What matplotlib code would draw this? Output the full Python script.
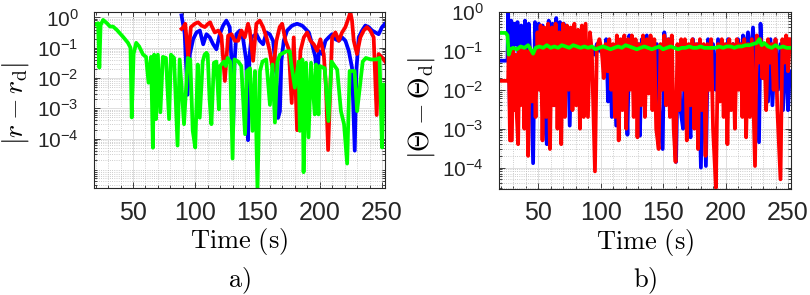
import matplotlib
matplotlib.use("Agg")
import matplotlib.pyplot as plt
from matplotlib.ticker import MultipleLocator, LogLocator, NullFormatter

# ---- data ----
# a) |r - r_d|
ta_green = [18.7, 22, 23, 24, 26, 29, 31.6, 34, 37, 42, 46, 48, 49, 50.5, 52.6, 55, 58, 60.5, 62.5, 64.5,
            66, 67, 68.5, 70, 72, 74, 76.5, 79, 80.5, 83, 85.8, 87.5, 91, 94, 96, 98, 100, 102, 103.6, 106,
            107.5, 109, 110, 111.6, 113, 115, 117, 119, 120, 123, 124.5, 126, 128, 130, 131.5, 134.5, 137,
            140, 141.5, 144, 146, 148, 150, 152, 154, 157, 160, 162, 164, 166, 168, 171, 173, 176, 177, 180,
            183, 184, 186, 187, 189, 191, 193, 196, 197, 199, 200, 204, 207, 209.5, 214, 217, 219.5, 222,
            224, 228, 230, 234.5, 237, 241, 245, 248, 250, 251.3, 252.5]
ra_green = [0.56, 0.65, 0.022, 0.56, 0.83, 0.65, 0.5, 0.5, 0.39, 0.23, 0.145, 0.1, 5e-4, 0.063, 0.145, 0.11,
            0.06, 0.05, 0.007, 0.05, 5e-5, 0.059, 4.4e-4, 0.059, 7.4e-4, 0.05, 0.046, 4.4e-4, 0.059, 0.046,
            5.9e-5, 0.041, 3e-4, 0.046, 0.041, 1.8e-4, 5.1e-5, 0.028, 4.9e-4, 0.035, 0.059, 0.068, 0.059,
            1.7e-3, 3e-4, 0.032, 0.035, 9.3e-4, 0.025, 0.035, 0.025, 0.046, 0.035, 2.2e-5, 0.041, 0.035,
            0.025, 1.4e-4, 0.017, 0.021, 1.8e-4, 0.017, 2e-6, 0.017, 0.035, 0.041, 1.3e-3, 0.028, 3.4e-4,
            0.035, 0.059, 0.068, 0.076, 0.076, 0.032, 4.8e-3, 0.035, 1.8e-4, 0.041, 7.8e-6, 0.032, 1.1e-4,
            0.032, 6.3e-4, 0.028, 6.3e-4, 0.025, 0.021, 3.8e-4, 0.035, 0.019, 8.1e-4, 3e-4, 1.5e-5, 0.017,
            0.017, 8.1e-4, 0.035, 0.046, 0.041, 0.041, 0.046, 5.1e-5, 6.2e-3, 1.3e-3]

ta_blue = [89, 91.5, 93.8, 95.7, 98.3, 101, 103.7, 106.4, 109, 111.7, 114.4, 117, 119.7, 122.4, 125, 127.7,
           129.5, 130.4, 131.5, 133, 135.8, 138.4, 141, 142.4, 143.5, 145.1, 149.1, 151.8, 154.5, 157.2,
           159.8, 162.5, 165.2, 166.5, 168, 169.2, 171.1, 173.8, 177.8, 181.8, 185.8, 188.5, 191.2, 193.9,
           196.5, 197.9, 199.2, 201.9, 204.6, 207.2, 209.9, 212.6, 215.3, 217.9, 220.6, 223.3, 225.9, 228.1,
           229.5, 231.3, 234, 236.6, 239.3, 242, 244.7, 247.3, 250, 252.5]
ra_blue = [1.17, 0.3, 0.0028, 0.062, 0.19, 0.32, 0.37, 0.13, 0.28, 0.22, 0.13, 0.089, 0.28, 0.54, 0.79, 0.48,
           0.02, 1.9e-4, 0.03, 0.28, 0.37, 0.2, 0.037, 8.9e-5, 0.05, 0.22, 0.28, 0.17, 0.13, 0.32, 0.28, 0.17,
           0.013, 4.8e-4, 8e-4, 0.037, 0.17, 0.37, 0.54, 0.62, 0.54, 0.42, 0.32, 0.13, 0.048, 0.0062, 0.079,
           0.062, 0.17, 0.22, 0.28, 0.19, 0.17, 0.22, 0.17, 0.079, 0.022, 4e-5, 0.02, 0.22, 0.37, 0.54, 0.48,
           0.37, 0.32, 0.28, 0.48, 0.62]

ta_red = [89, 90.5, 92, 94.3, 96.5, 99.7, 102.3, 105, 107.7, 110.3, 112, 113, 115.7, 118.4, 121, 123.8, 126.4,
          129.1, 131.8, 134.5, 137.1, 139.8, 142.4, 143.8, 146.5, 149.1, 151.8, 154.5, 157.2, 159.8, 162.5,
          165.2, 167.8, 169.8, 172.5, 175.1, 177.5, 179.1, 181.8, 184.5, 187.2, 189.9, 192.5, 195.2, 197.9,
          200.5, 203.2, 205, 206.7, 209.9, 212.6, 215.3, 217.9, 220.6, 223.3, 224.6, 225.9, 227.3, 229.9,
          232.6, 235.3, 237.9, 240.6, 243.3, 245.7, 247.3, 250, 252.5]
ra_red = [0.42, 0.48, 0.62, 0.048, 0.48, 0.62, 0.69, 0.54, 0.48, 0.62, 0.69, 0.54, 0.32, 0.37, 0.25, 0.008,
          0.25, 0.28, 0.17, 0.17, 0.37, 0.22, 0.62, 0.37, 0.037, 0.62, 0.79, 0.48, 0.22, 0.079, 0.017, 0.17,
          0.48, 0.62, 0.17, 0.089, 0.0015, 0.22, 1.9e-4, 0.079, 0.22, 0.32, 0.17, 0.13, 0.079, 0.19, 0.062,
          0.005, 4.2e-5, 0.22, 0.32, 0.17, 0.32, 0.48, 1.0, 1.5, 0.79, 0.17, 0.062, 0.22, 0.37, 0.48, 0.37,
          0.22, 6e-4, 0.062, 0.048, 0.035]

# b) |Theta - Theta_d|
tb_blue = [18.7, 25.5, 26, 27.4, 28.5, 29.5, 31, 32, 33.5, 35, 36.5, 38, 39.5, 41, 42.5, 44, 46, 47.5, 49,
           50.5, 52, 53.5, 55, 57, 58.5, 60, 61.5, 63, 64.5, 66, 67.5, 69, 70.5, 72, 73.5, 75.3, 77, 79, 81,
           83, 85, 87, 89, 91, 93, 95, 97, 99, 101, 103, 104.5, 106, 107.5, 109, 110.5, 112.5, 114, 116, 118,
           120, 121.5, 123, 124.5, 126, 128, 130, 131.5, 133, 135, 137, 139, 141, 143, 145, 147, 149.7, 151,
           153, 155, 157, 158.5, 160.4, 162, 164, 166, 168, 170, 172, 174, 176, 178, 180.3, 182, 184.3, 186,
           188, 190, 192, 194, 196, 198, 200, 202, 204, 206, 208, 210, 212, 214, 216, 218, 220, 222, 224,
           226.8, 228, 230, 232, 234, 236, 237.5, 240, 242, 244, 246, 248, 250, 251.5]
thb_blue = [0.056, 0.056, 0.95, 0.003, 0.6, 0.02, 0.5, 0.15, 0.55, 0.01, 0.45, 0.03, 0.6, 0.002, 0.5, 0.05,
            1.3e-4, 0.55, 0.01, 0.5, 0.1, 0.45, 0.002, 4e-4, 0.6, 0.08, 0.5, 0.004, 0.7, 0.05, 0.55, 0.02, 0.5,
            0.01, 0.4, 1.2e-3, 0.3, 0.05, 0.25, 0.01, 0.2, 0.03, 0.15, 0.1, 0.12, 0.08, 0.15, 0.1, 0.12, 0.03,
            0.2, 0.005, 0.15, 0.002, 0.12, 1.2e-3, 0.15, 0.004, 0.2, 0.03, 7e-4, 0.25, 0.05, 0.2, 0.01, 0.15,
            6.6e-4, 0.2, 0.04, 0.25, 0.02, 0.2, 0.005, 0.15, 0.003, 3e-4, 0.3, 0.05, 0.2, 0.005, 0.002, 1.4e-4,
            0.1, 0.003, 0.001, 0.15, 2e-3, 6e-4, 0.2, 0.01, 0.15, 1e-4, 0.1, 1.1e-4, 0.2, 0.05, 0.15, 0.01,
            0.2, 0.03, 0.15, 0.005, 0.2, 0.02, 0.15, 0.05, 0.2, 0.03, 0.25, 0.1, 0.3, 0.05, 0.4, 0.01, 4.5e-4,
            0.5, 0.02, 0.15, 0.005, 0.2, 0.004, 0.2, 0.01, 0.15, 0.003, 0.2, 0.003, 0.03]

tb_red = [18.7, 26, 26.5, 27.5, 29, 30, 31, 32, 33, 34, 35, 36, 37.5, 39, 40.5, 42, 43.5, 45, 46.5, 48,
          49.5, 51, 52, 53.5, 55, 56.5, 58, 59.5, 61, 62.5, 64, 65.5, 67, 68.5, 70, 71.5, 73, 74.5, 76, 77.5,
          79, 80.5, 82, 83.5, 85, 86.5, 88, 89.9, 91.5, 93, 95.5, 97, 99, 101, 102.5, 104, 105.5, 107, 108.5,
          110, 111.5, 113, 114.5, 116, 117.5, 119, 120.5, 122, 123.5, 125, 126.5, 128, 129.5, 131, 132.5,
          134, 135.5, 137, 138.5, 140, 141.5, 143, 144.5, 146.5, 148, 149.5, 151, 152.5, 154, 155.5, 157,
          158.5, 160, 161.5, 163, 164.5, 166, 167.5, 169, 170.5, 172, 173.5, 175, 176.5, 178, 179.5, 181,
          182.5, 184, 185.5, 187, 188.5, 190, 192.3, 194, 195.5, 197, 198.5, 200, 201.5, 203, 204.5, 206,
          207.5, 209, 210.5, 212, 213.5, 215, 216.5, 218, 219.5, 221, 223.6, 225, 226.5, 228, 229.5, 231,
          232.5, 234, 235.5, 237, 238.5, 240, 241.5, 244, 245.5, 247, 248.5, 250, 251.5]
thb_red = [0.017, 0.017, 0.12, 5e-4, 5e-4, 0.1, 0.003, 0.08, 2e-3, 4e-4, 0.1, 0.004, 0.12, 0.001, 0.1, 2e-4,
           0.12, 0.005, 0.1, 0.002, 0.3, 0.01, 0.45, 5e-4, 0.4, 0.002, 0.5, 3e-4, 0.4, 0.004, 0.5, 0.001, 0.3,
           4e-4, 0.5, 0.002, 0.45, 0.01, 0.4, 0.003, 0.5, 0.004, 0.35, 0.001, 0.45, 0.002, 0.5, 0.002, 0.3, 0.1,
           8e-5, 0.12, 0.2, 0.1, 0.02, 0.15, 0.03, 0.2, 0.01, 0.15, 0.002, 0.25, 5e-4, 0.2, 0.003, 0.25, 0.001,
           0.2, 0.01, 0.25, 0.002, 0.2, 6e-4, 0.15, 0.004, 0.25, 0.002, 0.2, 0.008, 0.25, 0.003, 0.2, 0.001,
           3e-4, 0.15, 0.01, 0.25, 0.004, 0.2, 0.002, 0.25, 0.001, 1.4e-4, 0.15, 0.003, 0.2, 0.01, 0.2, 5e-4,
           0.15, 0.004, 0.2, 0.001, 0.15, 3e-4, 0.2, 0.003, 0.15, 2e-4, 0.15, 0.01, 0.2, 0.001, 3e-5, 0.15,
           0.005, 0.2, 2e-3, 0.15, 4e-4, 0.2, 0.003, 0.15, 0.001, 0.2, 0.01, 0.15, 0.002, 0.2, 6e-4, 0.15,
           0.002, 0.2, 1.1e-4, 0.25, 0.05, 0.2, 0.02, 0.15, 0.003, 0.2, 0.05, 0.15, 0.01, 0.2, 0.003, 5e-5,
           0.2, 0.05, 0.25, 0.03, 0.2]

tb_green = [18.7, 24, 25.5, 26.5, 28, 30, 33, 36, 39, 42, 44, 46, 48, 51, 54, 57, 60, 63, 66, 69, 72, 75, 78,
            81, 84, 87, 90, 93, 96, 99, 102, 105, 108, 111, 114, 117, 120, 123, 126, 129, 132, 135, 138, 141,
            144, 147, 150, 153, 156, 159, 162, 165, 168, 171, 174, 177, 180, 183, 186, 189, 192, 195, 198,
            201, 204, 207, 210, 213, 216, 219, 222, 225, 227, 229, 231, 234, 237, 240, 243, 246, 249, 251.5]
thb_green = [0.29, 0.29, 0.25, 0.08, 0.11, 0.12, 0.11, 0.13, 0.12, 0.14, 0.11, 0.085, 0.12, 0.13, 0.12, 0.14,
             0.12, 0.13, 0.12, 0.14, 0.13, 0.12, 0.14, 0.13, 0.12, 0.13, 0.12, 0.13, 0.11, 0.12, 0.13, 0.12,
             0.11, 0.12, 0.13, 0.12, 0.14, 0.13, 0.12, 0.11, 0.12, 0.13, 0.12, 0.11, 0.12, 0.13, 0.11, 0.12,
             0.13, 0.12, 0.11, 0.12, 0.12, 0.13, 0.12, 0.12, 0.13, 0.12, 0.12, 0.12, 0.12, 0.13, 0.12, 0.13,
             0.13, 0.12, 0.13, 0.13, 0.14, 0.14, 0.15, 0.16, 0.2, 0.14, 0.16, 0.13, 0.12, 0.14, 0.12, 0.13,
             0.12, 0.12]

xticks = [50, 100, 150, 200, 250]
yticks = [1e-4, 1e-3, 1e-2, 1e-1, 1e0]

plt.rcParams['font.family'] = ['Liberation Sans', 'DejaVu Sans']
plt.rcParams['mathtext.fontset'] = 'custom'
plt.rcParams['mathtext.rm'] = 'Liberation Sans'
plt.rcParams['mathtext.it'] = 'Liberation Sans:italic'
plt.rcParams['mathtext.bf'] = 'Liberation Sans:bold'

BLUE, RED, GREEN = (0, 0, 1), (1, 0, 0), (0, 1, 0)
LW = 2.7
INK = '#262626'

fig = plt.figure(figsize=(8.1, 2.95), dpi=100)
ax_a = fig.add_axes([94 / 810, 107 / 295, 291 / 810, 176 / 295])
ax_b = fig.add_axes([499 / 810, 106 / 295, 292 / 810, 177 / 295])

ax_a.plot(ta_blue, ra_blue, color=BLUE, lw=LW)
ax_a.plot(ta_red, ra_red, color=RED, lw=LW)
ax_a.plot(ta_green, ra_green, color=GREEN, lw=LW)

ax_b.plot(tb_blue, thb_blue, color=BLUE, lw=LW)
ax_b.plot(tb_red, thb_red, color=RED, lw=LW)
ax_b.plot(tb_green, thb_green, color=GREEN, lw=LW)

for ax, ylim in ((ax_a, (10 ** -5.63, 10 ** 0.18)), (ax_b, (10 ** -4.55, 10 ** 0.0))):
    ax.set_yscale('log')
    ax.set_xlim(18.7, 252.4)
    ax.set_ylim(*ylim)
    ax.set_xticks(xticks)
    ax.xaxis.set_minor_locator(MultipleLocator(10))
    ax.set_yticks(yticks)
    ax.yaxis.set_minor_locator(LogLocator(base=10, subs=range(2, 10), numticks=20))
    ax.yaxis.set_minor_formatter(NullFormatter())
    ax.grid(True, which='major', color='#dedede', lw=0.7)
    ax.grid(True, which='minor', color='#bdbdbd', ls=':', lw=0.6)
    ax.set_axisbelow(True)
    ax.tick_params(which='both', direction='in', top=True, right=True, color=INK, width=0.6)
    ax.tick_params(which='major', length=4)
    ax.tick_params(which='minor', length=2)
    ax.tick_params(axis='x', labelsize=18, pad=9, labelcolor=INK)
    ax.tick_params(axis='y', labelsize=15, pad=11, labelcolor=INK)
    for s in ax.spines.values():
        s.set_color(INK)
        s.set_linewidth(0.8)
    ax.set_xlabel(r'$\mathrm{Time\ (s)}$', fontsize=19, math_fontfamily='cm', labelpad=1)

ax_a.set_ylabel(r'$|r - r_\mathrm{d}|$', fontsize=20, math_fontfamily='cm')
ax_b.set_ylabel(r'$|\Theta - \Theta_\mathrm{d}|$', fontsize=20, math_fontfamily='cm')
ax_a.yaxis.set_label_coords(-0.215, 0.48)
ax_b.yaxis.set_label_coords(-0.212, 0.46)

fig.text(239.5 / 810, 1 - 287 / 295, r'$\mathrm{a)}$', ha='center', va='baseline', fontsize=19,
         math_fontfamily='cm')
fig.text(645 / 810, 1 - 287 / 295, r'$\mathrm{b)}$', ha='center', va='baseline', fontsize=19,
         math_fontfamily='cm')

fig.savefig('out.png', dpi=100)
plt.close(fig)
